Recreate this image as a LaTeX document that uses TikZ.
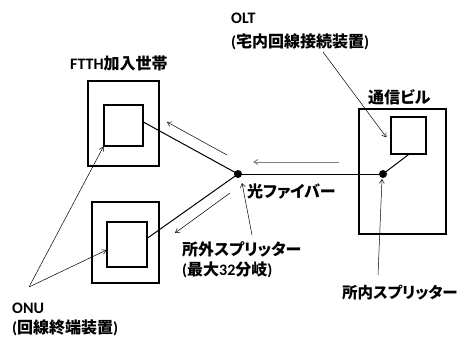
\documentclass[tikz,border=0pt]{standalone}
\usepackage{fontspec}
\setmainfont{Carlito}
\newfontfamily\cjk[RawFeature=+palt]{Noto Sans CJK JP Bold}
\usetikzlibrary{arrows.meta,calc}
\begin{document}
\begin{tikzpicture}[x=1pt,y=-1pt,
  dotnode/.style={circle,fill,inner sep=0,minimum size=8pt},
  lbl/.style={anchor=west,inner sep=0,font=\bfseries\fontsize{16}{18}\selectfont},
  thinarr/.style={-{Straight Barb[length=4pt,width=5pt]},line width=0.5pt},
  fiber/.style={line width=1pt},
  bx/.style={draw,line width=1.1pt,inner sep=0}]
\useasboundingbox (0,0) rectangle (462,338);
% boxes
\node[bx,minimum width=71pt,minimum height=85pt] (outU) at (123.5,123.5) {};
\node[bx,minimum width=39pt,minimum height=41pt] (inU) at (123.5,125.5) {};
\node[bx,minimum width=67pt,minimum height=81pt] (outL) at (125.5,242.5) {};
\node[bx,minimum width=40pt,minimum height=45pt] (inL) at (127,244.5) {};
\node[bx,minimum width=87pt,minimum height=125pt] (outO) at (402.5,171.5) {};
\node[bx,minimum width=35pt,minimum height=37pt] (inO) at (408.5,135.5) {};
% dots
\node[dotnode] (sp1) at (238,174) {};
\node[dotnode] (sp2) at (383,174) {};
% fibers
\draw[fiber] ($(inU.north east)!0.42!(inU.south east)$) -- (sp1.center);
\draw[fiber] ($(inL.north east)!0.36!(inL.south east)$) -- (sp1.center);
\draw[fiber] (sp1.center) -- (sp2.center);
\draw[fiber] (sp2.center) -- (inO.south);
% labels
\node[lbl] (olt) at (231,18) {OLT};
\node[lbl] (olt2) at (231,42) {({\cjk 宅内回線接続装置})};
\node[lbl] (ftth) at (70,63) {FTTH{\cjk 加入世帯}};
\node[lbl] (bldg) at (368,97) {\cjk 通信ビル};
\node[lbl] (fib) at (247,192) {\cjk 光ファイバー};
\node[lbl] (outsp) at (182,249) {\cjk 所外スプリッター};
\node[lbl] (outsp2) at (182,270) {({\cjk 最大}32{\cjk 分岐})};
\node[lbl,font=\bfseries\fontsize{15.5}{18}\selectfont] (insp) at (342,293) {\cjk 所内スプリッター};
\node[lbl] (onu) at (12,308) {ONU};
\node[lbl] (onu2) at (12,328) {({\cjk 回線終端装置})};
% direction arrows
\coordinate (a1s) at (227,155); \coordinate (a1e) at (167,122);
\coordinate (a2s) at (230,193); \coordinate (a2e) at (175,233);
\coordinate (a3s) at (339,162); \coordinate (a3e) at (253,162);
\draw[thinarr] (a1s) -- (a1e);
\draw[thinarr] (a2s) -- (a2e);
\draw[thinarr,gray,line width=0.9pt] (a3s) -- (a3e);
% pointer arrows
\coordinate (oltp) at (323,52);
\draw[thinarr] (oltp) -- ($(inO.north west)!0.55!(inO.south west)+(-4,0)$);
\coordinate (outp) at (252,235);
\draw[thinarr] (outp) -- ($(sp1.center)+(4,9)$);
\coordinate (inp) at (378,275);
\draw[thinarr] (inp) -- ($(sp2.center)+(-1,5)$);
\coordinate (onup) at (29,287);
\draw[thinarr] (onup) -- (inU.south west);
\draw[thinarr] (onup) -- ($(inL.north west)!0.62!(inL.south west)$);
\end{tikzpicture}
\end{document}
